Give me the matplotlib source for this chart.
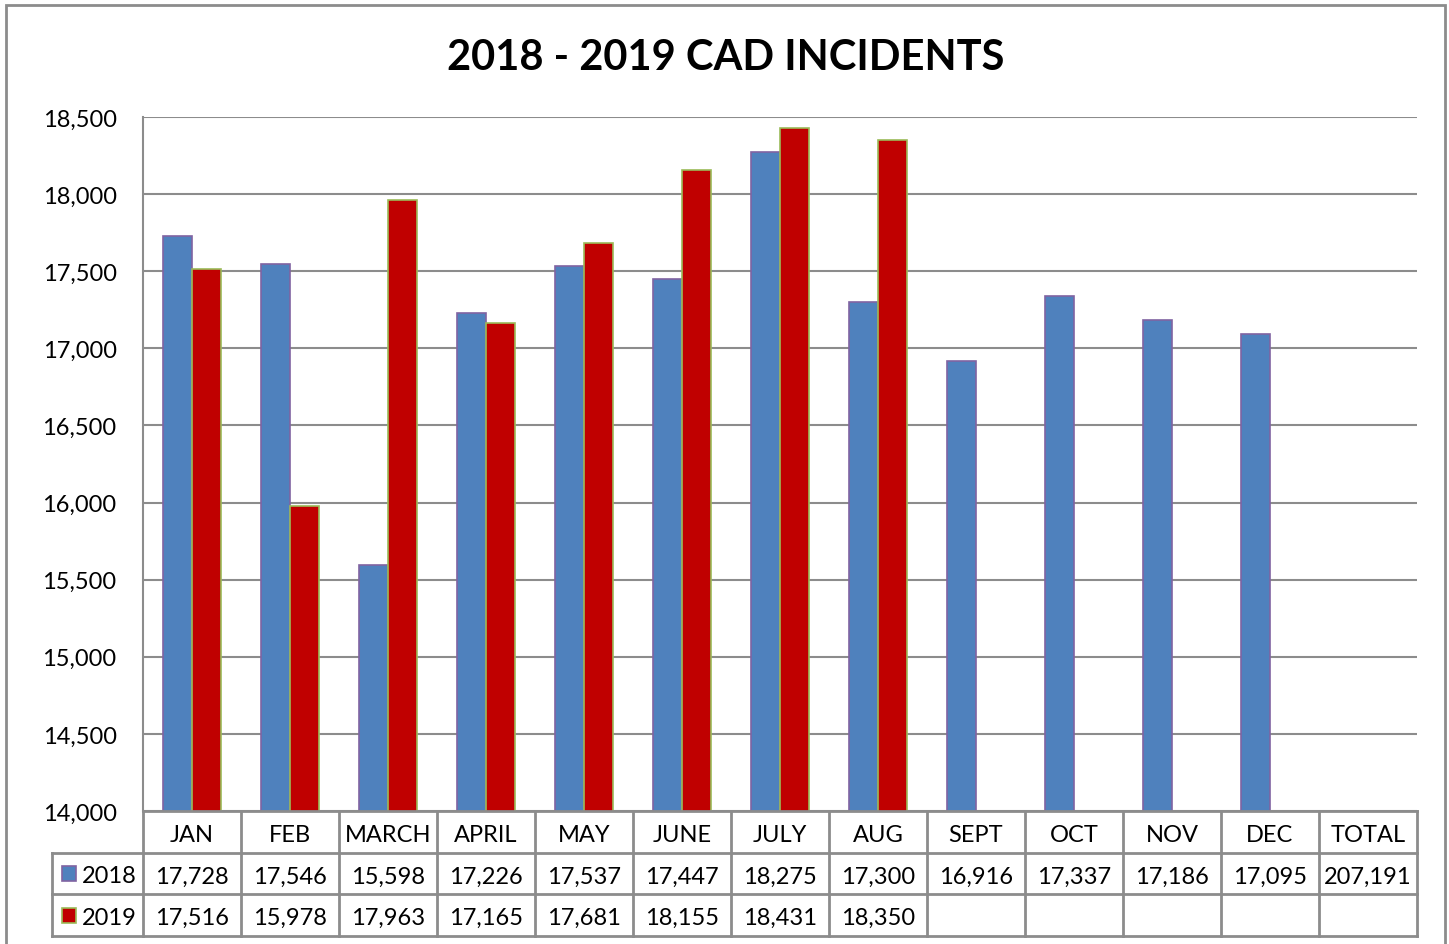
import matplotlib
matplotlib.use("Agg")
import matplotlib.pyplot as plt
from matplotlib.patches import Rectangle

# ---- data ----
months = ["JAN", "FEB", "MARCH", "APRIL", "MAY", "JUNE", "JULY", "AUG",
          "SEPT", "OCT", "NOV", "DEC", "TOTAL"]
v2018 = [17728, 17546, 15598, 17226, 17537, 17447, 18275, 17300,
         16916, 17337, 17186, 17095, 207191]
v2019 = [17516, 15978, 17963, 17165, 17681, 18155, 18431, 18350]
yticks = [14000, 14500, 15000, 15500, 16000, 16500, 17000, 17500, 18000, 18500]

plt.rcParams['font.family'] = ['Lato', 'DejaVu Sans']

W, H = 1449, 945
fig = plt.figure(figsize=(W / 100, H / 100), dpi=100)

blue, red = "#4F81BD", "#C00000"
blue_edge, red_edge = "#8064A2", "#9BBB59"
grid_c = "#8C8C8C"


def px(x0, y0, x1, y1):
    # pixel box (top-left origin) -> figure fraction rect
    return [x0 / W, 1 - y1 / H, (x1 - x0) / W, (y1 - y0) / H]


# outer chart border
fig.patches.append(Rectangle((6 / W, -0.05), (1445 - 6) / W, 1 - 6 / H + 0.05,
                             transform=fig.transFigure, fill=False,
                             edgecolor="#8C8C8C", linewidth=2))

fig.text(726 / W, 1 - 58 / H, "2018 - 2019 CAD INCIDENTS", ha="center",
         va="center", fontsize=30, fontweight="bold")

# ---- bars ----
ax = fig.add_axes(px(143, 118, 1417, 812))
n = len(months)
bw = 0.3
ax.bar([i - bw / 2 for i in range(n)], v2018[:-1] + [0], width=bw,
       color=blue, edgecolor=blue_edge, linewidth=1.2, zorder=3)
ax.bar([i + bw / 2 for i in range(len(v2019))], v2019, width=bw,
       color=red, edgecolor=red_edge, linewidth=1.2, zorder=3)
ax.set_xlim(-0.5, n - 0.5)
ax.set_ylim(14000, 18500)
ax.set_yticks(yticks)
ax.set_yticklabels([f"{v:,}" for v in yticks], fontsize=17)
ax.tick_params(axis="y", length=0, pad=19)
ax.set_xticks([])
ax.yaxis.grid(True, color=grid_c, linewidth=1.5, zorder=0)
for s in ["top", "right", "bottom"]:
    ax.spines[s].set_visible(False)
ax.spines["left"].set_color(grid_c)
ax.spines["left"].set_linewidth(1.5)

# ---- data table ----
tb = fig.add_axes(px(143, 812, 1417, 937))
tb.set_xlim(-0.5, n - 0.5)
tb.set_ylim(3, 0)
tb.axis("off")
lx = -0.5 - (143 - 52) / 98.0
lk = dict(color=grid_c, linewidth=2, clip_on=False)
for r in range(4):
    x0 = -0.5 if r == 0 else lx
    tb.plot([x0, n - 0.5], [r, r], **lk)
for c in range(n + 1):
    tb.plot([c - 0.5, c - 0.5], [0, 3], **lk)
tb.plot([lx, lx], [1, 3], **lk)

fs = 17
dy = 0.56  # text sits a little below the row middle
for i, m in enumerate(months):
    tb.text(i, dy, m, ha="center", va="center", fontsize=fs)
    tb.text(i, 1 + dy, f"{v2018[i]:,}", ha="center", va="center", fontsize=fs)
for i, v in enumerate(v2019):
    tb.text(i, 2 + dy, f"{v:,}", ha="center", va="center", fontsize=fs)

for r, (lab, fc, ec) in enumerate([("2018", blue, blue_edge), ("2019", red, red_edge)]):
    tb.add_patch(Rectangle((lx + 0.1, 1.32 + r), 0.145, 0.36, facecolor=fc,
                           edgecolor=ec, linewidth=1.2, clip_on=False))
    tb.text(lx + 0.3, 1 + dy + r, lab, ha="left", va="center", fontsize=fs,
            clip_on=False)

fig.savefig("out.png", dpi=100)
